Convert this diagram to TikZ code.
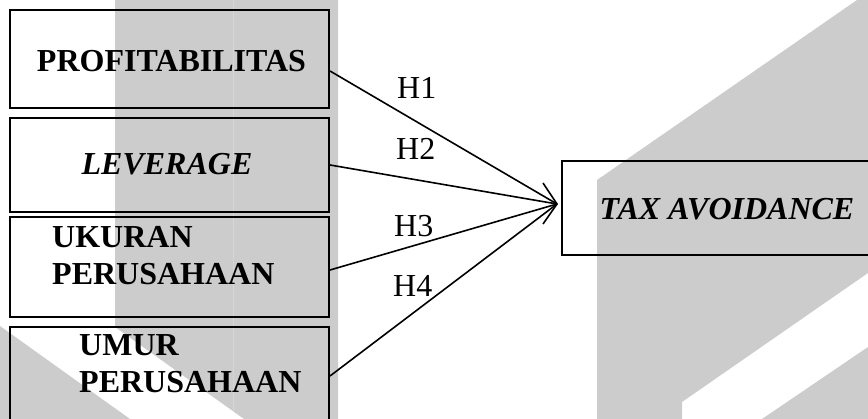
\documentclass[tikz,border=0pt]{standalone}
\usepackage{fontspec}
\setmainfont{Liberation Serif}
\definecolor{wmgray}{HTML}{CCCCCC}
\definecolor{wmseam}{HTML}{D6D6D6}
\begin{document}
\begin{tikzpicture}[x=1pt,y=-1pt,
  wm/.style={fill=wmgray},
  varbox/.style={draw, line width=2pt, minimum width=319pt, inner sep=0pt},
  depbox/.style={draw, line width=2pt, minimum width=330pt, minimum height=94pt, inner sep=0pt},
  boxtext/.style={inner sep=0pt, font=\fontsize{32}{37}\selectfont\bfseries},
  hyp/.style={inner sep=0pt, anchor=base west, font=\fontsize{32}{37}\selectfont},
  link/.style={line width=1.6pt}]
\useasboundingbox (0,0) rectangle (868,419);
\clip (0,0) rectangle (868,419);

% background logo shapes
\fill[wm] (115,0) -- (338,0) -- (338,419) -- (244,419) -- (115,327) -- cycle;
\fill[wm] (0,326) -- (130,419) -- (0,419) -- cycle;
\draw[wmseam, line width=0.7pt] (233,0) -- (233,411);
\fill[wm] (597,180) -- (857,0) -- (868,0) -- (868,273) -- (682,402) -- (682,419) -- (597,419) -- cycle;
\fill[wm] (762,419) -- (868,347) -- (868,419) -- cycle;

% independent variables
\node[varbox, minimum height=98pt]  (p1) at (169.5,59)  {};
\node[varbox, minimum height=94pt]  (p2) at (169.5,165) {};
\node[varbox, minimum height=100pt] (p3) at (169.5,267) {};
\node[varbox, minimum height=98pt]  (p4) at (169.5,376) {};

\node[boxtext, anchor=base] (t1) at (171.5,72) {PROFITABILITAS};
\node[boxtext, anchor=base] (t2) at (167,175) {\itshape LEVERAGE};
% two-line labels: the base anchor sits on the last line
\node[boxtext, anchor=base west, align=left] (t3) at (52,285) {UKURAN\\PERUSAHAAN};
\node[boxtext, anchor=base west, align=left] (t4) at (79,393) {UMUR\\PERUSAHAAN};

% dependent variable
\node[depbox] (tax) at (727,208) {};
\node[boxtext, anchor=base] (t5) at (727,220) {\itshape TAX AVOIDANCE};

% hypotheses
\coordinate (tip) at ([xshift=-4pt,yshift=4pt]tax.west);
\draw[link] ([yshift=-12pt]p1.east) -- (tip);
\draw[link] (p2.east) -- (tip);
\draw[link] ([yshift=-3pt]p3.east) -- (tip);
\draw[link] (p4.east) -- (tip);
\draw[link] ([shift={(-14,-21)}]tip) -- (tip) -- ([shift={(-14,20)}]tip);

\node[hyp] (h1) at (397,99)  {H1};
\node[hyp] (h2) at (396,160) {H2};
\node[hyp] (h3) at (394,237) {H3};
\node[hyp] (h4) at (393,297) {H4};
\end{tikzpicture}
\end{document}
